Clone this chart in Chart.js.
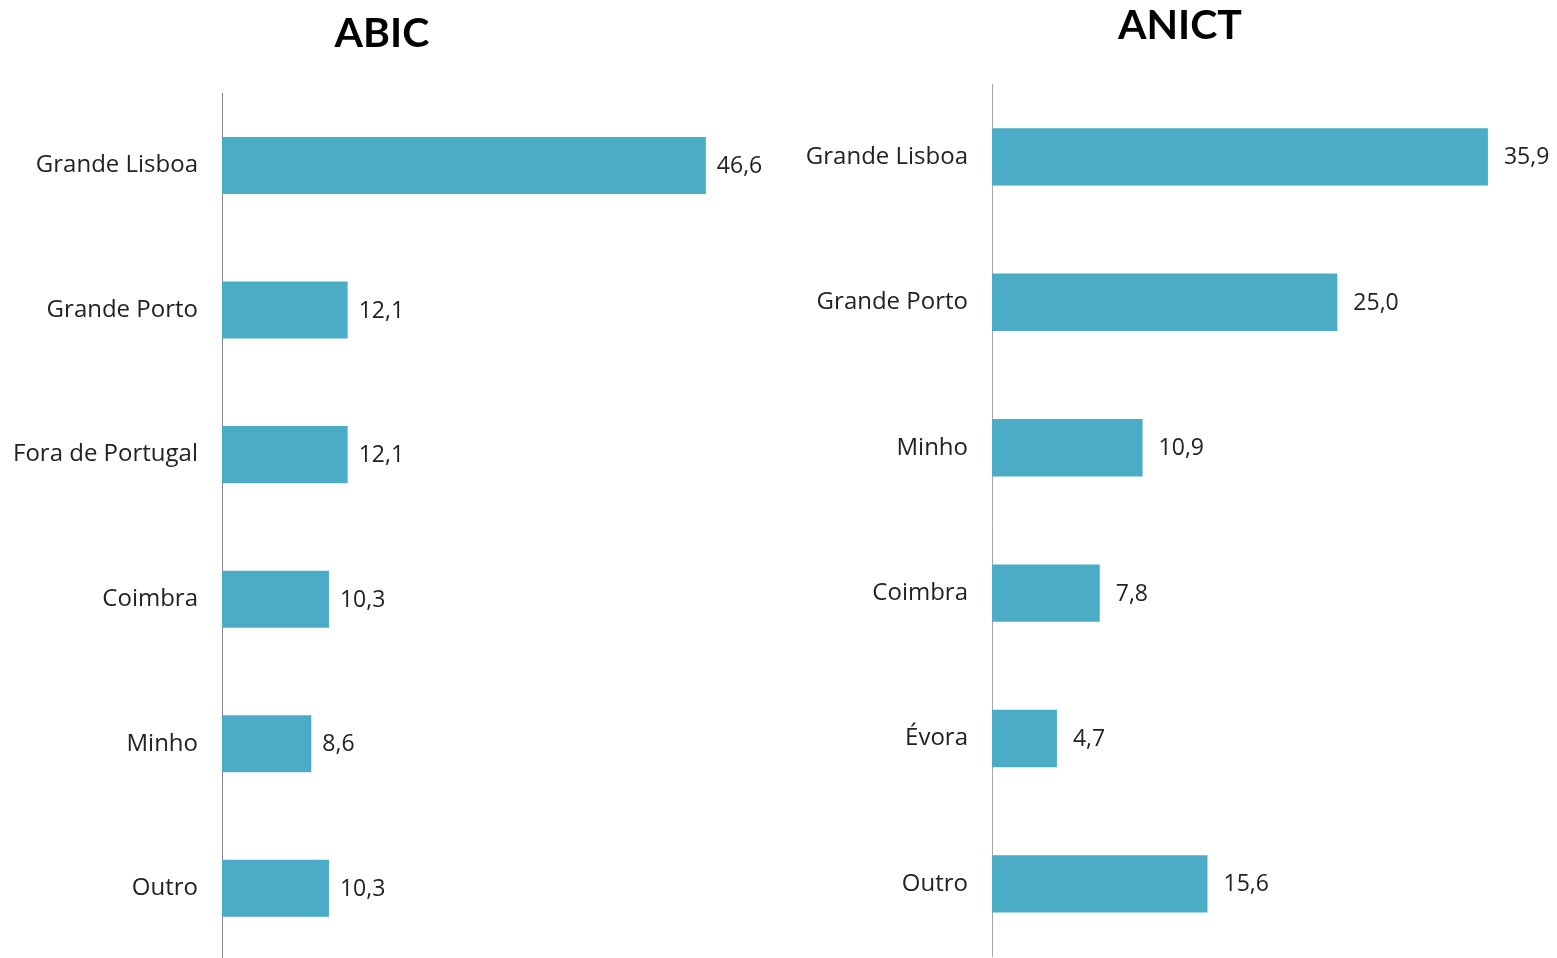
<!DOCTYPE html>
<html>
<head>
<meta charset="utf-8">
<script src="https://cdn.jsdelivr.net/npm/chart.js@4/dist/chart.umd.min.js"></script>
<style>
  html, body { margin: 0; padding: 0; background: #fff; overflow: hidden; width: 1557px; height: 958px; }
  canvas { position: absolute; top: 0; display: block; }
  #c1 { left: 0; }
  #c2 { left: 803px; }
</style>
</head>
<body>
<canvas id="c1" width="764" height="999" style="width:764px;height:999px"></canvas>
<canvas id="c2" width="754" height="995" style="width:754px;height:995px"></canvas>
<script>
const abicCategories = ['Grande Lisboa', 'Grande Porto', 'Fora de Portugal', 'Coimbra', 'Minho', 'Outro'];
const abicValues = [46.6, 12.1, 12.1, 10.3, 8.6, 10.3];
const anictCategories = ['Grande Lisboa', 'Grande Porto', 'Minho', 'Coimbra', 'Évora', 'Outro'];
const anictValues = [35.9, 25.0, 10.9, 7.8, 4.7, 15.6];

const BAR_COLOR = '#4BACC6';
const TEXT_COLOR = '#222222';
const FONT = '"Open Sans", sans-serif';
const TITLE_FONT = 'Lato, sans-serif';

const fmt = v => v.toFixed(1).replace('.', ',');

const valueLabels = {
  id: 'valueLabels',
  afterDatasetsDraw(chart, args, opts) {
    const ctx = chart.ctx;
    const meta = chart.getDatasetMeta(0);
    ctx.save();
    ctx.font = '23px ' + FONT;
    ctx.fillStyle = TEXT_COLOR;
    ctx.textAlign = 'left';
    ctx.textBaseline = 'middle';
    meta.data.forEach((el, i) => {
      const v = chart.data.datasets[0].data[i];
      ctx.fillText(fmt(v), el.x + opts.offset, el.y + 1);
    });
    ctx.restore();
  }
};

function makeChart(id, title, cats, vals, xmax, axisW, titlePad, borderColor, offset) {
  return new Chart(document.getElementById(id), {
    type: 'bar',
    data: {
      labels: cats,
      datasets: [{
        data: vals,
        backgroundColor: BAR_COLOR,
        borderWidth: 0,
        barPercentage: 0.395,
        categoryPercentage: 1.0
      }]
    },
    options: {
      indexAxis: 'y',
      responsive: false,
      animation: false,
      devicePixelRatio: 1,
      layout: { padding: 0, autoPadding: false },
      plugins: {
        legend: { display: false },
        tooltip: { enabled: false },
        title: {
          display: true,
          text: title,
          color: '#000',
          font: { family: TITLE_FONT, size: 41, weight: 'bold' },
          padding: titlePad
        },
        valueLabels: { offset: offset }
      },
      scales: {
        x: { display: false, min: 0, max: xmax },
        y: {
          afterFit(scale) { scale.width = axisW; },
          grid: { display: false, drawTicks: false },
          border: { display: true, color: borderColor, width: 1 },
          ticks: {
            color: TEXT_COLOR,
            font: { family: FONT, size: 24 },
            padding: 24
          }
        }
      }
    },
    plugins: [valueLabels]
  });
}

makeChart('c1', 'ABIC', abicCategories, abicValues, 52.2, 222, { top: 9, bottom: 35 }, '#868686', 11);
makeChart('c2', 'ANICT', anictCategories, anictValues, 40.9, 189, { top: 1, bottom: 34 }, '#A6A6A6', 16);
</script>
</body>
</html>
